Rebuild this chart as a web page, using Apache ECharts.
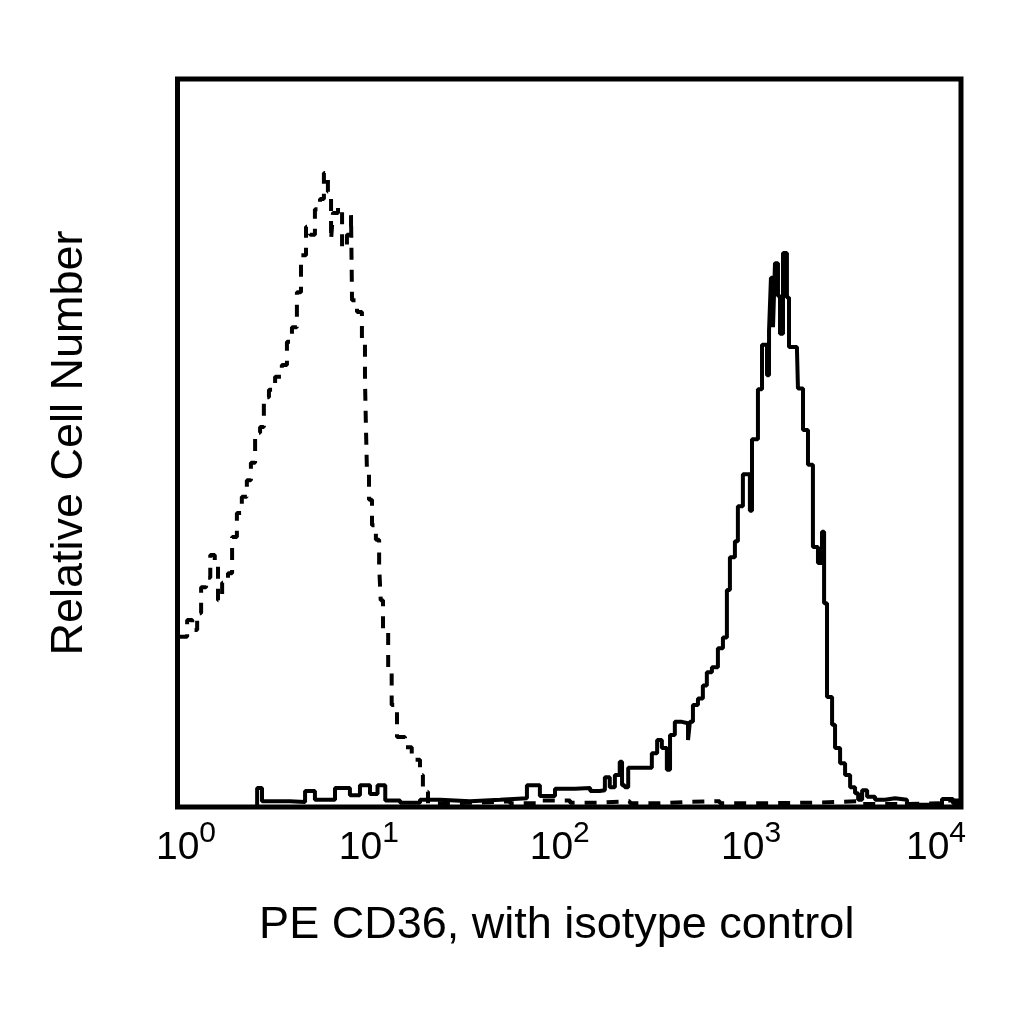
<!DOCTYPE html>
<html>
<head>
<meta charset="utf-8">
<style>
  html, body { margin: 0; padding: 0; background: #fff; }
  #chart { width: 1024px; height: 1024px; }
</style>
<script src="https://cdn.jsdelivr.net/npm/echarts@6/dist/echarts.min.js"></script>
</head>
<body>
<div id="chart"></div>
<script>
// isotype control (dashed) - intensity / relative count
var isoX = [1.00, 1.04, 1.12, 1.19, 1.26, 1.32, 1.40, 1.47, 1.55, 1.61, 1.69, 1.81, 1.90, 2.01, 2.13,
  2.26, 2.37, 2.49, 2.64, 2.76, 2.93, 3.15, 3.41, 3.62, 3.84, 4.07, 4.27, 4.53, 4.75, 5.03, 5.34,
  5.59, 5.86, 6.08, 6.22, 6.60, 6.92, 7.33, 7.69, 7.78, 8.25, 8.74, 9.06, 9.17, 9.27, 9.50, 9.84,
  10.3, 10.7, 10.9, 11.2, 11.9, 12.4, 13.2, 14.5, 15.7, 17.3, 17.9, 19.0,
  24.6, 35.0, 49.8, 70.8, 101, 143, 204, 290, 413, 587, 940, 1795, 3046, 4875, 7800, 10000];
var isoY = [23.4, 23.4, 25.7, 24.3, 26.6, 30.2, 31.5, 34.6, 33.5, 28.4, 30.8, 32.1, 37.1, 40.4, 42.6,
  44.9, 47.3, 51.4, 52.2, 56.3, 57.3, 59.1, 60.7, 63.9, 65.9, 70.7, 75.8, 79.7, 78.6, 82.1, 83.5,
  87.1, 84.5, 77.9, 81.6, 82.4, 76.8, 78.6, 81.3, 69.6, 68.0, 64.1, 58.7, 51.8, 46.3, 42.2, 38.7,
  36.7, 33.2, 28.4, 24.0, 19.1, 14.0, 9.6, 8.2, 6.5, 4.4, 2.1, 0.5,
  0.6, 0.8, 0.5, 0.9, 0.6, 0.8, 0.5, 0.7, 0.8, 0.5, 0.6, 0.8, 0.4, 0.5, 0.9, 0.5];

// PE CD36 (solid)
var cdX = [1.00, 2.35, 2.55, 2.70, 3.75, 4.48, 5.03, 6.37, 7.59, 8.54, 9.61, 10.5, 11.5, 13.7, 17.3,
  21.9, 31.1, 44.3, 60.8, 70.8, 84.6, 107, 128, 143, 152, 161, 171, 181, 186, 192, 200, 238, 264,
  281, 297, 315, 327, 346, 376, 404, 413, 428, 454, 481, 504, 535, 574, 609, 638, 661, 701, 726,
  770, 836, 857, 919, 964, 1022, 1047, 1071, 1097, 1123, 1163, 1191, 1234, 1292, 1324, 1454, 1471,
  1561, 1655, 1754, 1861, 1951, 2000, 2070, 2197, 2275, 2414, 2560, 2716, 2878, 2985, 3128, 3317,
  3642, 4095, 4605, 5297, 7360, 8000, 9100, 10000];
var cdY = [0, 0, 2.6, 0.8, 0.7, 2.2, 1.0, 2.6, 1.6, 3.0, 1.8, 3.0, 0.9, 0.6, 1.0,
  0.8, 1.0, 1.2, 3.0, 1.5, 2.5, 2.6, 2.2, 2.3, 4.1, 2.7, 4.4, 6.2, 3.0, 2.7, 5.4, 5.4, 7.4,
  9.2, 8.1, 5.1, 9.9, 11.7, 11.5, 9.2, 11.7, 14.0, 14.9, 16.7, 18.5, 19.2, 21.8, 23.3, 29.8, 34.3, 36.5, 41.3,
  45.7, 40.7, 50.5, 57.4, 63.5, 59.3, 65.4, 72.7, 65.9, 74.7, 70.2, 65.0, 76.1, 70.0, 63.2, 62.8, 57.5,
  51.8, 47.0, 35.7, 33.5, 37.8, 28.0, 15.1, 11.3, 8.1, 6.0, 4.4, 2.7, 1.9, 1.0, 2.3, 1.4,
  1.0, 1.2, 1.0, 0.3, 0.3, 1.1, 0.5, 0.5];

var decades = ['0', '1', '2', '3', '4'];

function pairs(xs, ys) {
    var out = [];
    for (var i = 0; i < xs.length; i++) {
        out.push([xs[i], ys[i]]);
    }
    return out;
}

// label nudges (the original labels are not quite centred on their ticks)
var padL = [17, 0, 0, 0, 0];
var padR = [0, 9, 19, 28, 50];
var rich = {};
for (var k = 0; k < 5; k++) {
    rich['b' + k] = {
        fontFamily: 'Liberation Sans', fontSize: 39, color: '#000',
        lineHeight: 49, verticalAlign: 'bottom', padding: [0, 0, 0, padL[k]]
    };
    rich['s' + k] = {
        fontFamily: 'Liberation Sans', fontSize: 30, color: '#000',
        lineHeight: 30, verticalAlign: 'top', padding: [0, padR[k], 0, 0]
    };
}

var chart = echarts.init(document.getElementById('chart'));
var option = {
    animation: false,
    grid: {
        left: 177.5, right: 63, top: 79, bottom: 217,
        show: true, borderColor: '#000', borderWidth: 5,
        backgroundColor: 'transparent'
    },
    xAxis: {
        type: 'log',
        logBase: 10,
        min: 1,
        max: 10000,
        name: 'PE CD36, with isotype control',
        nameLocation: 'middle',
        nameGap: 96,
        nameTextStyle: {
            fontFamily: 'Liberation Sans', fontSize: 45, color: '#000',
            padding: [0, 25, 0, 0]
        },
        axisLine: { show: false },
        axisTick: { show: false },
        splitLine: { show: false },
        axisLabel: {
            margin: 12,
            formatter: function (v) {
                var n = Math.round(Math.log(v) / Math.LN10);
                return '{b' + n + '|10}{s' + n + '|' + decades[n] + '}';
            },
            rich: rich
        }
    },
    yAxis: {
        type: 'value',
        min: 0,
        max: 100,
        name: 'Relative Cell Number',
        nameLocation: 'middle',
        nameRotate: 90,
        nameGap: 85,
        nameTextStyle: { fontFamily: 'Liberation Sans', fontSize: 45, color: '#000' },
        axisLine: { show: false },
        axisTick: { show: false },
        axisLabel: { show: false },
        splitLine: { show: false }
    },
    series: [
        {
            name: 'isotype',
            type: 'line',
            step: 'end',
            showSymbol: false,
            data: pairs(isoX, isoY),
            lineStyle: { color: '#000', width: 4, type: [12, 10] }
        },
        {
            name: 'CD36',
            type: 'line',
            step: 'end',
            showSymbol: false,
            data: pairs(cdX, cdY),
            lineStyle: { color: '#000', width: 4 }
        }
    ]
};
chart.setOption(option);
</script>
</body>
</html>
